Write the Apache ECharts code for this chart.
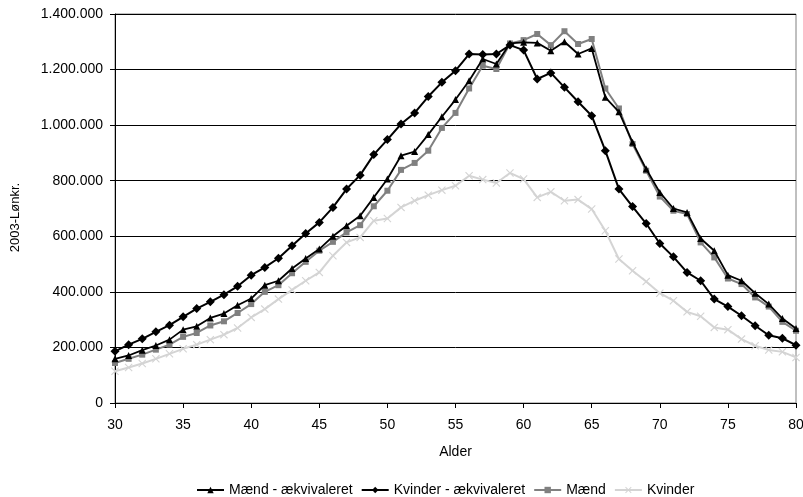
<!DOCTYPE html>
<html>
<head>
<meta charset="utf-8">
<script src="https://cdn.jsdelivr.net/npm/echarts@6/dist/echarts.min.js"></script>
<style>
  html, body { margin: 0; padding: 0; background: #fff; }
  #chart { width: 803px; height: 497px; }
</style>
</head>
<body>
<div id="chart"></div>
<script>
// Alder 30..80
const ages = [];
for (let a = 30; a <= 80; a++) ages.push(a);

// Indkomst i 2003-lønkroner (tusinder)
const maendAekv = [159, 171, 190, 207, 228, 264, 276, 306, 322, 352,
  376, 424, 440, 484, 520, 554, 600, 638, 674, 740,
  806, 890, 905, 966, 1030, 1092, 1160, 1238, 1220, 1294,
  1298, 1296, 1268, 1300, 1256, 1276, 1100, 1048, 938, 842,
  758, 700, 686, 592, 548, 460, 440, 395, 356, 304, 268];

const kvinderAekv = [186, 210, 231, 256, 280, 310, 340, 364, 390, 420,
  460, 488, 521, 566, 610, 650, 704, 770, 820, 894,
  948, 1004, 1044, 1103, 1154, 1196, 1256, 1254, 1256, 1288,
  1270, 1166, 1188, 1136, 1084, 1034, 908, 770, 707, 646,
  574, 526, 470, 440, 374, 347, 314, 278, 244, 233, 208];

const maend = [144, 159, 174, 192, 210, 238, 252, 279, 294, 324,
  356, 400, 424, 467, 508, 548, 580, 614, 640, 708,
  764, 839, 864, 908, 990, 1044, 1132, 1214, 1202, 1294,
  1306, 1328, 1288, 1338, 1292, 1310, 1132, 1060, 932, 836,
  743, 692, 680, 578, 524, 448, 428, 380, 347, 292, 260];

const kvinder = [114, 128, 142, 159, 177, 195, 210, 228, 246, 270,
  308, 338, 374, 407, 440, 470, 530, 578, 596, 656,
  664, 704, 728, 748, 766, 782, 818, 804, 792, 828,
  806, 740, 760, 728, 732, 698, 620, 518, 476, 437,
  395, 368, 328, 312, 272, 264, 230, 206, 191, 184, 164];

const seriesNames = ['Mænd - ækvivaleret', 'Kvinder - ækvivaleret', 'Mænd', 'Kvinder'];

const pairs = vals => ages.map((a, i) => [a, vals[i] * 1000]);
const fmt = v => String(v).replace(/\B(?=(\d{3})+(?!\d))/g, '.');

const crossSymbol = 'path://M0,1L1,0L5,4L9,0L10,1L6,5L10,9L9,10L5,6L1,10L0,9L4,5Z';
const font = 'Liberation Sans, Arial, sans-serif';

const chart = echarts.init(document.getElementById('chart'), null, { renderer: 'canvas' });
chart.setOption({
  animation: false,
  backgroundColor: '#fff',
  textStyle: { fontFamily: font },
  grid: {
    left: 115, right: 7, top: 14, bottom: 94,
    outerBoundsMode: 'none',
    show: true, borderColor: '#808080', borderWidth: 1
  },
  legend: {
    top: 478,
    left: 191,
    itemWidth: 27,
    itemHeight: 8,
    itemGap: 8,
    textStyle: { fontFamily: font, fontSize: 14, color: '#000' },
    data: seriesNames
  },
  xAxis: {
    type: 'value',
    min: 30, max: 80, interval: 5,
    name: 'Alder',
    nameLocation: 'middle',
    nameGap: 42,
    nameTextStyle: { fontFamily: font, fontSize: 14, color: '#000' },
    axisLine: { lineStyle: { color: '#000', width: 1 } },
    axisTick: { show: true, length: 5, lineStyle: { color: '#000' } },
    axisLabel: { fontFamily: font, fontSize: 14, color: '#000', margin: 15 },
    splitLine: { show: false }
  },
  yAxis: {
    type: 'value',
    min: 0, max: 1400000, interval: 200000,
    name: '2003-Lønkr.',
    nameLocation: 'middle',
    nameGap: 93,
    nameTextStyle: { fontFamily: font, fontSize: 13, color: '#000', padding: [0, 18, 0, 0] },
    axisLine: { show: true, lineStyle: { color: '#000', width: 1 } },
    axisTick: { show: true, length: 5, lineStyle: { color: '#000' } },
    axisLabel: { fontFamily: font, fontSize: 14, color: '#000', margin: 12, formatter: fmt },
    splitLine: { show: true, lineStyle: { color: '#000', width: 1 } }
  },
  series: [
    {
      name: seriesNames[0], type: 'line', data: pairs(maendAekv),
      symbol: 'triangle', symbolSize: 7, showAllSymbol: true,
      lineStyle: { color: '#000', width: 1.8 },
      itemStyle: { color: '#000' }, z: 3
    },
    {
      name: seriesNames[1], type: 'line', data: pairs(kvinderAekv),
      symbol: 'diamond', symbolSize: 9, showAllSymbol: true,
      lineStyle: { color: '#000', width: 2 },
      itemStyle: { color: '#000' }, z: 4
    },
    {
      name: seriesNames[2], type: 'line', data: pairs(maend),
      symbol: 'rect', symbolSize: 6, showAllSymbol: true,
      lineStyle: { color: '#808080', width: 2 },
      itemStyle: { color: '#808080' }, z: 2
    },
    {
      name: seriesNames[3], type: 'line', data: pairs(kvinder),
      symbol: crossSymbol, symbolSize: 8, showAllSymbol: true,
      lineStyle: { color: '#d4d4d4', width: 2 },
      itemStyle: { color: '#d4d4d4' }, z: 1
    }
  ]
});
</script>
</body>
</html>
